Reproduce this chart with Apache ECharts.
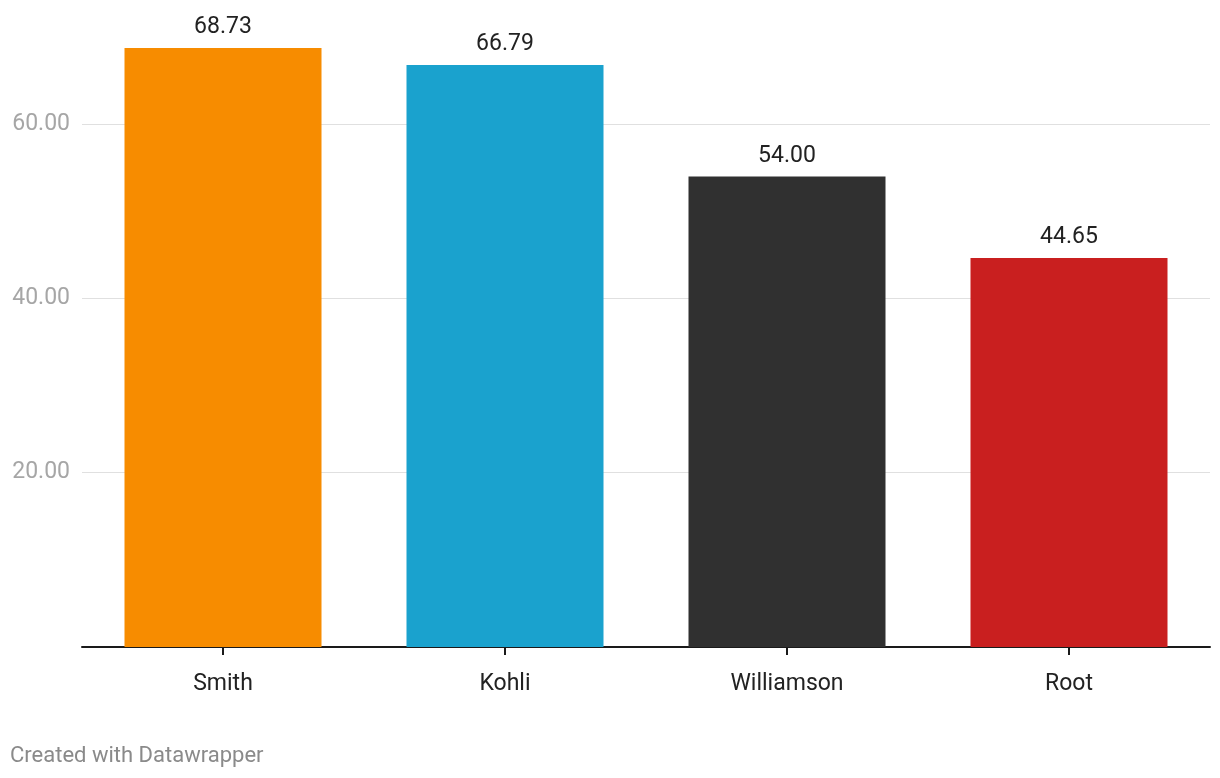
<!DOCTYPE html>
<html><head><meta charset="utf-8">
<script src="https://cdn.jsdelivr.net/npm/echarts@6/dist/echarts.min.js"></script>
<style>html,body{margin:0;padding:0;background:#fff}#c{width:1220px;height:778px}</style>
</head><body><div id="c"></div>
<script>
const categories = ['Smith', 'Kohli', 'Williamson', 'Root'];
const values = [68.73, 66.79, 54.00, 44.65];
const colors = ['#F78C00', '#1AA2CE', '#303030', '#C91F1F'];
const yTicks = [20, 40, 60];

const chart = echarts.init(document.getElementById('c'), null, {renderer: 'canvas'});
chart.setOption({
  animation: false,
  textStyle: {fontFamily: 'Roboto'},
  grid: {left: 82, right: 10, top: 0, bottom: 131, containLabel: false},
  xAxis: {
    type: 'category', data: categories,
    axisLine: {lineStyle: {color: '#1a1a1a', width: 2}},
    axisTick: {show: true, alignWithLabel: true, length: 8, lineStyle: {color: '#1a1a1a', width: 2}},
    axisLabel: {color: '#222', fontSize: 23, margin: 26, fontFamily: 'Roboto'}
  },
  yAxis: {
    type: 'value', min: 0, max: 74.25, interval: 20,
    axisLine: {show: false}, axisTick: {show: false},
    splitLine: {showMaxLine: false, showMinLine: false, lineStyle: {color: '#e0e0e0', width: 1}},
    axisLabel: {color: '#a6a6a6', fontSize: 23, margin: 12, fontFamily: 'Roboto',
      showMinLabel: false, showMaxLabel: false, verticalAlign: 'middle', padding: [3, 0, 0, 0],
      formatter: v => yTicks.includes(v) ? v.toFixed(2) : ''}
  },
  series: [{
    type: 'bar', barWidth: 197,
    data: values.map((v, i) => ({value: v, itemStyle: {color: colors[i]}})),
    label: {show: true, position: 'top', distance: 9, color: '#222', fontSize: 23,
      fontFamily: 'Roboto', formatter: p => p.value.toFixed(2)}
  }],
  graphic: [{type: 'text', left: 10, top: 745,
    style: {text: 'Created with Datawrapper', fill: '#8a8a8a', fontSize: 22, fontFamily: 'Roboto'}}]
});
</script></body></html>
